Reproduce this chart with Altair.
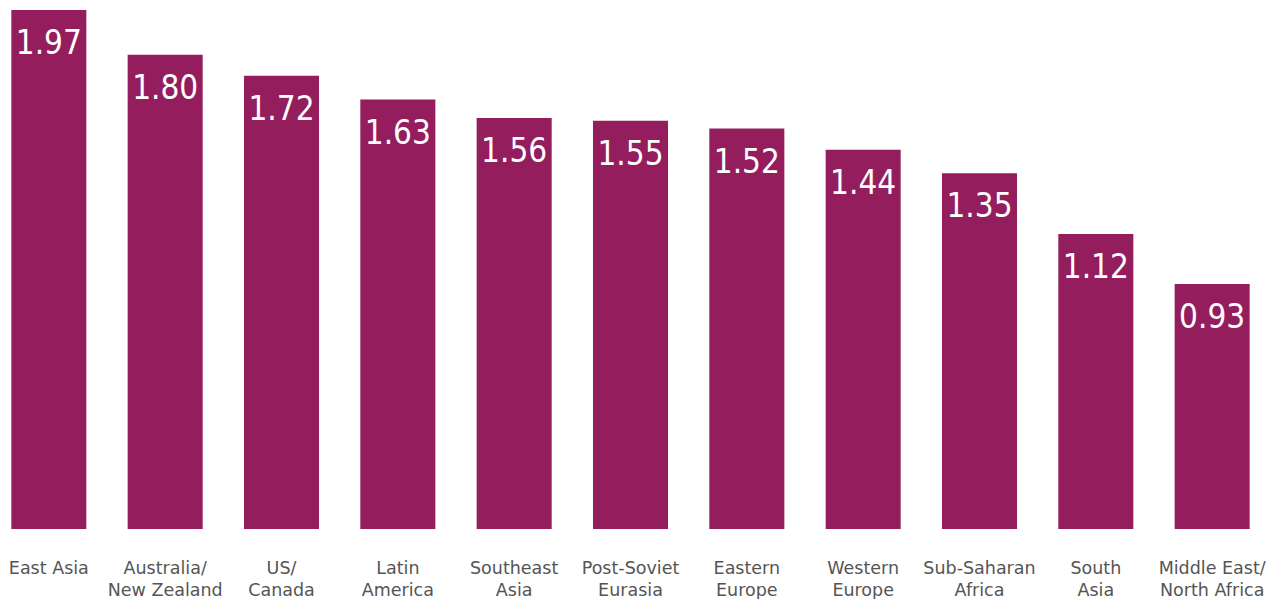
import altair as alt
import pandas as pd

regions = [
    "East Asia",
    "Australia/\nNew Zealand",
    "US/\nCanada",
    "Latin\nAmerica",
    "Southeast\nAsia",
    "Post-Soviet\nEurasia",
    "Eastern\nEurope",
    "Western\nEurope",
    "Sub-Saharan\nAfrica",
    "South\nAsia",
    "Middle East/\nNorth Africa",
]
values = [1.97, 1.80, 1.72, 1.63, 1.56, 1.55, 1.52, 1.44, 1.35, 1.12, 0.93]

df = pd.DataFrame({"region": regions, "value": values})
df["label"] = df["value"].map(lambda v: f"{v:.2f}")

x = alt.X(
    "region:N",
    sort=regions,
    scale=alt.Scale(paddingInner=0.355, paddingOuter=0.02),
    axis=alt.Axis(
        title=None,
        labelAngle=0,
        labelExpr="split(datum.label, '\\n')",
        labelFont="DejaVu Sans",
        labelFontSize=17.5,
        labelColor="#555555",
        labelPadding=30,
        labelLineHeight=22,
        labelBound=False,
        ticks=False,
        domain=False,
        grid=False,
    ),
)
y = alt.Y(
    "value:Q",
    scale=alt.Scale(domain=[0, 1.97], nice=False, zero=True),
    axis=None,
)

base = alt.Chart(df).encode(x=x, y=y)

bars = base.mark_bar(color="#941D5E")
texts = base.mark_text(
    baseline="top",
    dy=18,
    font="'DejaVu Sans Condensed', 'Liberation Sans Narrow', 'Roboto', sans-serif",
    fontSize=33,
    color="white",
).encode(text="label:N")

chart = (
    alt.layer(bars, texts)
    .properties(
        width=1243,
        height=519,
        padding={"left": 0, "top": 2, "right": 0, "bottom": 8},
        view=alt.ViewBackground(stroke=None, strokeWidth=0, strokeOpacity=0),
    )
    .configure_view(stroke=None, strokeWidth=0, strokeOpacity=0)
    .configure(background="white")
)

chart.save("out.html", embed_options={"renderer": "svg", "actions": False})
